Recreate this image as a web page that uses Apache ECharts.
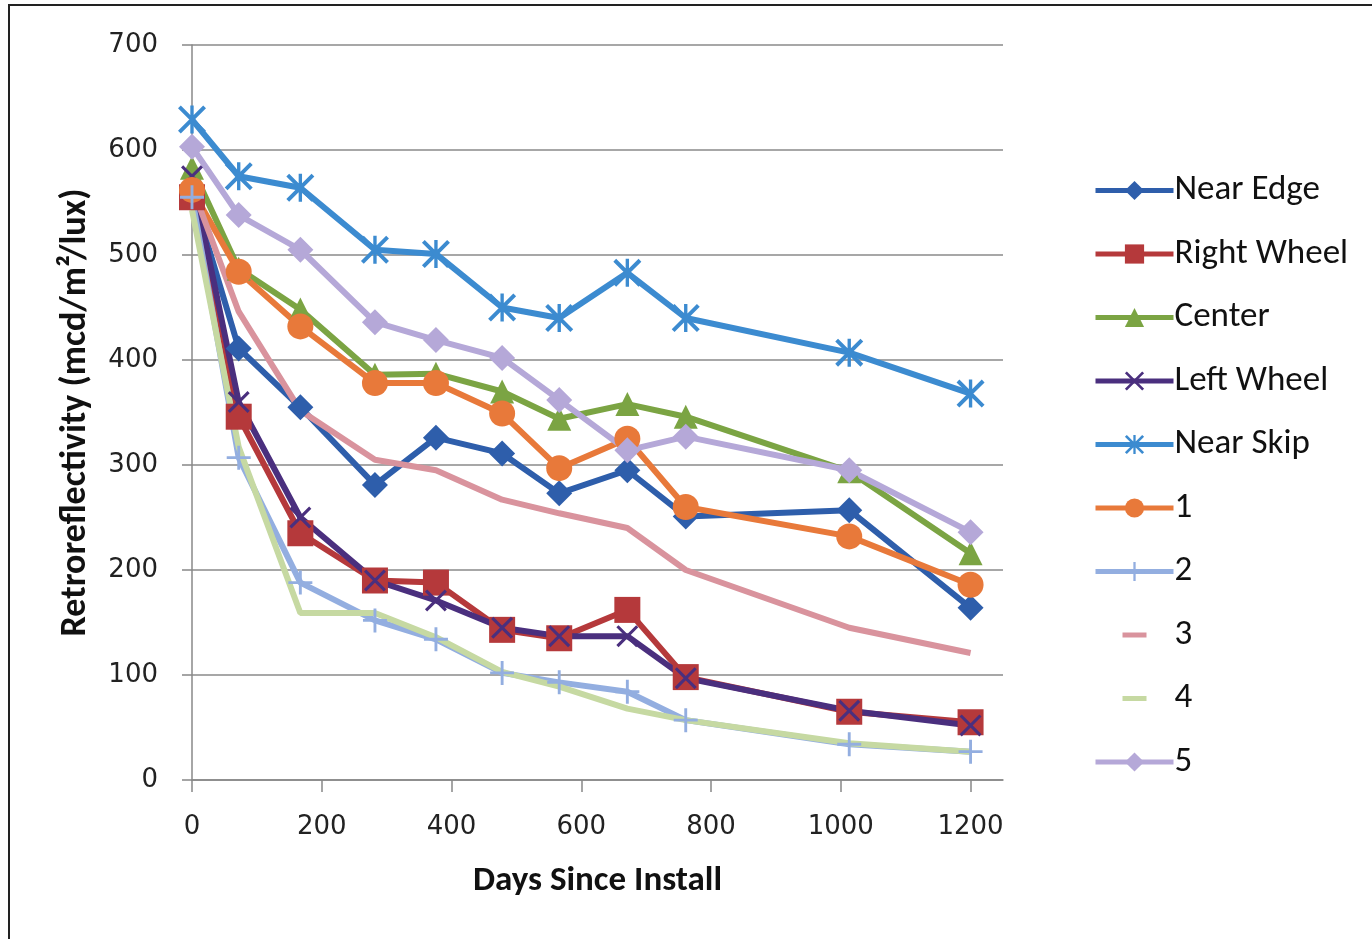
<!DOCTYPE html>
<html>
<head>
<meta charset="utf-8">
<script src="https://cdn.jsdelivr.net/npm/echarts@6/dist/echarts.min.js"></script>
<style>
  html, body { margin: 0; padding: 0; background: #fff; }
  #chart { width: 1372px; height: 939px; }
</style>
</head>
<body>
<div id="chart"></div>
<script>
// days since install (shared by every series)
const days = [0, 72, 167, 282, 376, 478, 566, 671, 761, 1013, 1200];

const nearEdge   = [560, 411, 355, 281, 326, 311, 273, 295, 251, 257, 164];
const rightWheel = [555, 346, 235, 190, 188, 143, 135, 162, 98, 65, 55];
const center     = [583, 487, 448, 386, 387, 370, 344, 358, 346, 294, 216];
const leftWheel  = [575, 360, 250, 190, 171, 145, 137, 137, 97, 66, 52];
const nearSkip   = [629, 575, 564, 505, 501, 450, 440, 483, 440, 407, 368];
const s1 = [562, 484, 432, 378, 378, 349, 297, 325, 260, 232, 186];
const s2 = [555, 307, 188, 152, 134, 102, 93, 84, 57, 34, 27];
const s3 = [565, 446, 352, 305, 295, 267, 254, 240, 200, 145, 121];
const s4 = [543, 317, 159, 159, 136, 103, 89, 68, 57, 35, 27];
const s5 = [603, 538, 505, 436, 419, 402, 362, 314, 327, 295, 236];

const xTicks = [0, 200, 400, 600, 800, 1000, 1200];

const X_PATH = "path://M0,1L1,0L10,9L9,10ZM9,0L10,1L1,10L0,9Z";
const STAR_PATH = "path://M0,1L1,0L10,9L9,10ZM9,0L10,1L1,10L0,9ZM4.4,0L5.6,0L5.6,10L4.4,10Z";
const PLUS_PATH = "path://M4.4,0L5.6,0L5.6,10L4.4,10ZM0,4.4L10,4.4L10,5.6L0,5.6Z";
// thin line used as legend icon for the series drawn without markers
// (tiny specks at top and bottom keep the path box full height so the bar stays thin)
const BAR_ICON = "path://M0,0L0.01,0L0.01,0.01L0,0.01ZM0,3.95L10,3.95L10,6.05L0,6.05ZM0,9.99L0.01,9.99L0.01,10L0,10Z";

const tickFont = "DejaVu Sans";
const textFont = "Carlito";

function pairs(ys) {
  return days.map((d, i) => [d, ys[i]]);
}

function mk(name, ys, color, symbol, size) {
  return {
    name: name,
    type: "line",
    data: pairs(ys),
    symbol: symbol,
    symbolSize: size,
    showSymbol: symbol !== "none",
    lineStyle: { color: color, width: 6 },
    itemStyle: { color: color },
    emphasis: { disabled: true },
    animation: false,
  };
}

var myChart = echarts.init(document.getElementById("chart"));

var option = {
  backgroundColor: "#ffffff",
  graphic: [
    {
      type: "rect",
      shape: { x: 9, y: 5, width: 1400, height: 1000 },
      style: { fill: "none", stroke: "#222", lineWidth: 2 },
      silent: true,
    },
  ],
  legend: {
    orient: "vertical",
    left: 1088,
    top: 168,
    itemWidth: 78,
    itemHeight: 24,
    itemGap: 28.5,
    lineStyle: { width: 5 },
    textStyle: { fontFamily: textFont, fontSize: 35, color: "#111", padding: [0, 0, 0, -4] },
    data: [
      "Near Edge", "Right Wheel", "Center", "Left Wheel", "Near Skip", "1", "2",
      { name: "3", icon: BAR_ICON },
      { name: "4", icon: BAR_ICON },
      "5",
    ],
  },
  grid: { left: 192, right: 369, top: 45, bottom: 159 },
  xAxis: {
    type: "value",
    min: 0,
    max: 1250,
    name: "Days Since Install",
    nameLocation: "middle",
    nameGap: 84,
    nameTextStyle: { fontFamily: textFont, fontWeight: "bold", fontSize: 35, color: "#111" },
    axisLine: { lineStyle: { color: "#888", width: 1.5 } },
    axisTick: { show: true, length: 12, customValues: xTicks, lineStyle: { color: "#888", width: 1.5 } },
    axisLabel: {
      customValues: xTicks,
      fontFamily: tickFont,
      fontSize: 26,
      color: "#222",
      margin: 34,
      formatter: function (v) { return String(v); },
    },
    splitLine: { show: false },
  },
  yAxis: {
    type: "value",
    min: 0,
    max: 700,
    interval: 100,
    name: "Retroreflectivity (mcd/m\u00b2/lux)",
    nameLocation: "middle",
    nameGap: 98,
    nameTextStyle: { fontFamily: textFont, fontWeight: "bold", fontSize: 36, color: "#111" },
    axisLine: { show: true, lineStyle: { color: "#888", width: 1.5 } },
    axisTick: { show: true, length: 10, lineStyle: { color: "#888", width: 1.5 } },
    axisLabel: { fontFamily: tickFont, fontSize: 26, color: "#222", margin: 34 },
    splitLine: { lineStyle: { color: "#8a8a8a", width: 1.5 } },
  },
  series: [
    mk("Near Edge", nearEdge, "#2E5EAB", "diamond", 26),
    mk("Right Wheel", rightWheel, "#B5393B", "rect", 26),
    mk("Center", center, "#7BA443", "triangle", 24),
    mk("Left Wheel", leftWheel, "#4A2F7E", X_PATH, 22),
    mk("Near Skip", nearSkip, "#3C8BD0", STAR_PATH, 28),
    mk("1", s1, "#E8793A", "circle", 26),
    mk("2", s2, "#93AEE0", PLUS_PATH, 24),
    mk("3", s3, "#D9939D", "none", 0),
    mk("4", s4, "#C6D9A2", "none", 0),
    mk("5", s5, "#B5A8D8", "diamond", 26),
  ],
};

option && myChart.setOption(option);
</script>
</body>
</html>
